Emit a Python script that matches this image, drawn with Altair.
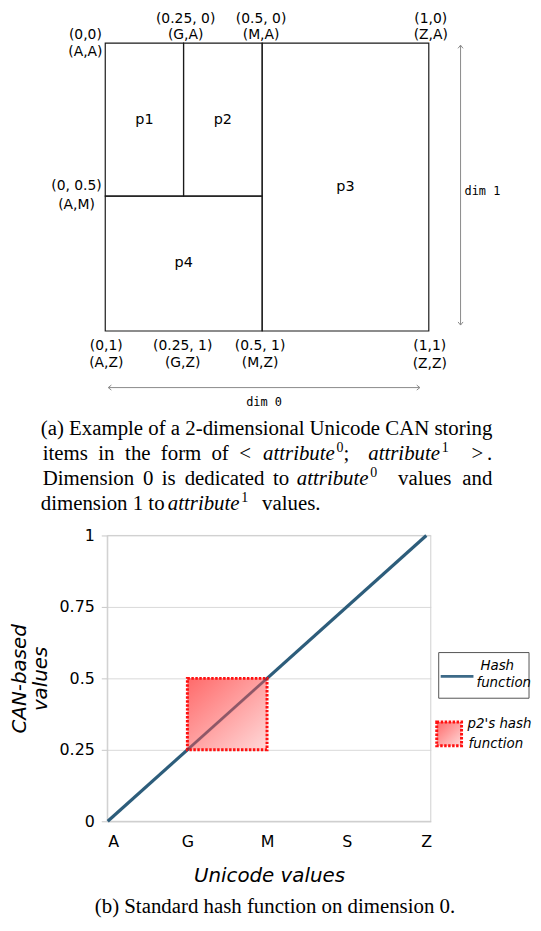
import json
import altair as alt
import pandas as pd

# ---------------- data: panel (a) ----------------
part_names = ["p1", "p2", "p3", "p4"]
part_x0 = [0.0, 0.242, 0.485, 0.0]
part_x1 = [0.242, 0.485, 1.0, 0.485]
part_y0 = [0.0, 0.0, 0.0, 0.531]
part_y1 = [0.531, 0.531, 1.0, 1.0]

corner_line1 = ["(0,0)", "(0.25, 0)", "(0.5, 0)", "(1,0)", "(0, 0.5)",
                "(0,1)", "(0.25, 1)", "(0.5, 1)", "(1,1)"]
corner_line2 = ["(A,A)", "(G,A)", "(M,A)", "(Z,A)", "(A,M)",
                "(A,Z)", "(G,Z)", "(M,Z)", "(Z,Z)"]

# ---------------- data: panel (b) ----------------
axis_letters = ["A", "G", "M", "S", "Z"]
axis_ticks = [0.0, 0.25, 0.5, 0.75, 1.0]
y_tick_labels = ["0", "0.25", "0.5", "0.75", "1"]
hash_x = [0.0, 1.0]
hash_y = [0.0, 1.0]
p2_x = [0.25, 0.5]
p2_y = [0.25, 0.5]

caption_b = "(b) Standard hash function on dimension 0."

# ---------------- layout helpers (page pixels -> data units) ----------------
AX0, AX1, AY0, AY1 = 105.0, 431.0, 38.0, 328.0
PLOT_LEFT = 107.0
W_A, H_A = 328, 290


def ax(px):
    return (px - AX0) / (AX1 - AX0)


def ay(py):
    return (py - AY0) / (AY1 - AY0)


BX0, BX1, BY0, BY1 = 107.5, 428.5, 823.0, 535.0
W_B, H_B = 326, 288


def bx(px):
    return (px - BX0) / (BX1 - BX0)


def by(py):
    return (BY0 - py) / (BY0 - BY1)


# ---------------- panel (a) ----------------
sxa = alt.Scale(domain=[ax(PLOT_LEFT), ax(PLOT_LEFT + W_A)], nice=False, zero=False)
sya = alt.Scale(domain=[0, 1], nice=False, zero=False, reverse=True)


def XA(f="x"):
    return alt.X(f"{f}:Q", scale=sxa, axis=None)


def YA(f="y"):
    return alt.Y(f"{f}:Q", scale=sya, axis=None)


parts = pd.DataFrame({"name": part_names, "x": part_x0, "x2": part_x1,
                      "y": part_y0, "y2": part_y1})

rects = alt.Chart(parts).mark_rect(
    fillOpacity=0, stroke="#1a1a1a", strokeWidth=1.2
).encode(x=XA(), x2="x2:Q", y=YA(), y2="y2:Q")

plabels = alt.Chart(parts).transform_calculate(
    cx="(datum.x + datum.x2) / 2", cy="(datum.y + datum.y2) / 2"
).mark_text(font="DejaVu Sans", fontSize=14.5, color="black").encode(
    x=XA("cx"), y=YA("cy"), text="name:N")

corner_px = [85, 186, 262, 433, 76, 106, 183, 261, 432]
corner_py1 = [30, 14, 14, 14, 182, 343, 343, 343, 343]
corner_py2 = [47, 30, 30, 30, 201, 360, 360, 360, 361]
corner_rows = []
for t1, t2, px, p1, p2 in zip(corner_line1, corner_line2, corner_px, corner_py1, corner_py2):
    corner_rows.append({"t": t1, "x": ax(px), "y": ay(p1)})
    corner_rows.append({"t": t2, "x": ax(px), "y": ay(p2)})
corners = alt.Chart(pd.DataFrame(corner_rows)).mark_text(
    font="DejaVu Sans", fontSize=14, color="black", baseline="middle"
).encode(x=XA(), y=YA(), text="t:N")

arrow_lines = pd.DataFrame({
    "x": [ax(463), ax(108)], "x2": [ax(463), ax(422)],
    "y": [ay(40), ay(385)], "y2": [ay(322), ay(385)],
})
rules_a = alt.Chart(arrow_lines).mark_rule(color="#8a8a8a", strokeWidth=1).encode(
    x=XA(), x2="x2:Q", y=YA(), y2="y2:Q")

heads = pd.DataFrame({
    "x": [ax(463), ax(463), ax(108), ax(422)],
    "y": [ay(40), ay(322), ay(385), ay(385)],
    "angle": [270, 90, 180, 0],
})
heads_a = alt.Chart(heads).mark_point(
    shape="M -1 -0.8 L 0 0 L -1 0.8", filled=False, size=40,
    strokeWidth=1, color="#8a8a8a", opacity=1
).encode(x=XA(), y=YA(), angle=alt.Angle("angle:Q", scale=None))

dim_lab = pd.DataFrame({"t": ["dim 1", "dim 0"],
                        "x": [ax(485), ax(265)], "y": [ay(187), ay(400)]})
dims = alt.Chart(dim_lab).mark_text(
    font="DejaVu Sans Mono", fontSize=12, color="black", baseline="middle"
).encode(x=XA(), y=YA(), text="t:N")

# caption (a): (text, x px, baseline y px, align, style) -- word groups placed to imitate justification
cap_segments = [
    ("(a) Example of a 2-dimensional", 40, 433, "left", "normal"),
    ("Unicode CAN storing", 495, 433, "right", "normal"),
    ("items", 42, 458, "left", "normal"),
    ("in", 98, 458, "left", "normal"),
    ("the", 125, 458, "left", "normal"),
    ("form", 161, 458, "left", "normal"),
    ("of", 212, 458, "left", "normal"),
    ("<", 240, 458, "left", "normal"),
    ("attribute", 264, 458, "left", "italic"),
    (";", 345, 458, "left", "normal"),
    ("attribute", 370, 458, "left", "italic"),
    (">", 474, 458, "left", "normal"),
    (".", 495, 458, "right", "normal"),
    ("Dimension", 42, 483, "left", "normal"),
    ("0", 143, 483, "left", "normal"),
    ("is", 162, 483, "left", "normal"),
    ("dedicated", 185, 483, "left", "normal"),
    ("to", 274, 483, "left", "normal"),
    ("attribute", 298, 483, "left", "italic"),
    ("values", 400, 483, "left", "normal"),
    ("and", 495, 483, "right", "normal"),
    ("dimension 1 to", 40, 508, "left", "normal"),
    ("attribute", 168, 508, "left", "italic"),
    ("values.", 263, 508, "left", "normal"),
]
# superscripts (text, x px, baseline y px)
cap_sups = [("0", 338, 450), ("1", 444, 450), ("0", 372, 475), ("1", 242, 500)]

cap_df = pd.DataFrame([{"t": t, "x": ax(px), "y": ay(py), "align": al, "style": st}
                       for t, px, py, al, st in cap_segments])
cap_layers = []
for al in ["left", "right"]:
    for st in ["normal", "italic"]:
        sub = cap_df[(cap_df["align"] == al) & (cap_df["style"] == st)]
        if len(sub) == 0:
            continue
        cap_layers.append(alt.Chart(sub).mark_text(
            font="Liberation Serif", fontSize=21, fontStyle=st, align=al,
            baseline="alphabetic", color="black"
        ).encode(x=XA(), y=YA(), text="t:N"))
sup_df = pd.DataFrame([{"t": t, "x": ax(px), "y": ay(py)} for t, px, py in cap_sups])
cap_layers.append(alt.Chart(sup_df).mark_text(
    font="Liberation Serif", fontSize=14, align="left", baseline="alphabetic", color="black"
).encode(x=XA(), y=YA(), text="t:N"))

top = alt.layer(rects, plabels, corners, rules_a, heads_a, dims, *cap_layers).properties(
    width=W_A, height=H_A)

# ---------------- panel (b) ----------------
x_label_expr = json.dumps(axis_letters) + "[round(datum.value * 4)]"
y_label_expr = json.dumps(y_tick_labels) + "[round(datum.value * 4)]"
sxb = alt.Scale(domain=[bx(PLOT_LEFT), bx(PLOT_LEFT + W_B)], nice=False, zero=False)
syb = alt.Scale(domain=[0, 1], nice=False, zero=False)

x_axis = alt.Axis(values=axis_ticks, labelExpr=x_label_expr, grid=False, ticks=False,
                  domainColor="#c8c8c8", labelFont="DejaVu Sans", labelFontSize=16,
                  labelColor="black", labelPadding=12, title="Unicode values",
                  titleFont="DejaVu Sans", titleFontSize=20, titleFontStyle="italic",
                  titleFontWeight="normal", titleColor="black", titlePadding=17)
y_axis = alt.Axis(values=axis_ticks, labelExpr=y_label_expr, grid=True, gridColor="#d9d9d9",
                  domainColor="#c8c8c8", tickColor="#c8c8c8", tickSize=6,
                  labelFont="DejaVu Sans", labelFontSize=16, labelColor="black",
                  labelPadding=7, title=["CAN-based", "values"], titleFont="DejaVu Sans",
                  titleFontSize=20, titleFontStyle="italic", titleFontWeight="normal",
                  titleColor="black", titleLineHeight=21, titlePadding=9)


def XB():
    return alt.X("x:Q", scale=sxb, axis=x_axis)


def YB():
    return alt.Y("y:Q", scale=syb, axis=y_axis)


frame = alt.Chart(pd.DataFrame({"x": [bx(PLOT_LEFT)], "x2": [bx(PLOT_LEFT + W_B)],
                                "y": [0.0], "y2": [1.0]})).mark_rect(
    fillOpacity=0, stroke="#d0d0d0", strokeWidth=1
).encode(x=XB(), x2="x2:Q", y=YB(), y2="y2:Q")

hash_line = alt.Chart(pd.DataFrame({"x": hash_x, "y": hash_y})).mark_line(
    color="#2d5d7b", strokeWidth=3.2
).encode(x=XB(), y=YB())

grad = alt.LinearGradient(
    gradient="linear",
    stops=[alt.GradientStop(color="#ff5050", offset=0),
           alt.GradientStop(color="#ffd2d2", offset=1)],
    x1=0, y1=0, x2=1, y2=1)

p2_box = alt.Chart(pd.DataFrame({"x": [p2_x[0]], "x2": [p2_x[1]],
                                 "y": [p2_y[0]], "y2": [p2_y[1]]})).mark_rect(
    fill=grad, fillOpacity=0.85, stroke="#ff1010", strokeWidth=3, strokeDash=[2.5, 1.5]
).encode(x=XB(), x2="x2:Q", y=YB(), y2="y2:Q")

# the hash line seen through the translucent p2 square
hash_inside = alt.Chart(pd.DataFrame({"x": p2_x, "y": p2_y})).mark_line(
    color="#4a3048", strokeWidth=2.6, opacity=0.55
).encode(x=XB(), y=YB())

# legend (drawn in panel (b) coordinates)
leg_box = alt.Chart(pd.DataFrame({"x": [bx(441)], "x2": [bx(532)],
                                  "y": [by(653)], "y2": [by(699)]})).mark_rect(
    fillOpacity=0, stroke="#555555", strokeWidth=1
).encode(x=XB(), x2="x2:Q", y=YB(), y2="y2:Q")

leg_line = alt.Chart(pd.DataFrame({"x": [bx(443)], "x2": [bx(476)],
                                   "y": [by(677)], "y2": [by(677)]})).mark_rule(
    color="#3d6a88", strokeWidth=3
).encode(x=XB(), x2="x2:Q", y=YB(), y2="y2:Q")

leg_swatch = alt.Chart(pd.DataFrame({"x": [bx(439)], "x2": [bx(464)],
                                     "y": [by(723)], "y2": [by(747)]})).mark_rect(
    fill=grad, fillOpacity=0.85, stroke="#ff1010", strokeWidth=3, strokeDash=[2.5, 1.5]
).encode(x=XB(), x2="x2:Q", y=YB(), y2="y2:Q")

leg_text = alt.Chart(pd.DataFrame({
    "t": ["Hash", "function", "p2's hash", "function"],
    "x": [bx(483), bx(479), bx(470), bx(471)],
    "y": [by(667), by(684), by(725), by(745)],
})).mark_text(
    font="DejaVu Sans", fontSize=13.5, fontStyle="italic", align="left",
    baseline="middle", color="black"
).encode(x=XB(), y=YB(), text="t:N")

cap_b = alt.Chart(pd.DataFrame({"t": [caption_b], "x": [bx(276)], "y": [by(915)]})).mark_text(
    font="Liberation Serif", fontSize=21, align="center", baseline="alphabetic", color="black"
).encode(x=XB(), y=YB(), text="t:N")

bottom = alt.layer(frame, hash_line, p2_box, hash_inside, leg_box, leg_line, leg_swatch,
                   leg_text, cap_b).properties(width=W_B, height=H_B)

chart = alt.vconcat(top, bottom, spacing=12).properties(
    padding={"left": 0, "top": 0, "right": 0, "bottom": 0}
).configure_view(stroke="transparent")

chart.save("out.html", embed_options={"renderer": "svg", "actions": False})
